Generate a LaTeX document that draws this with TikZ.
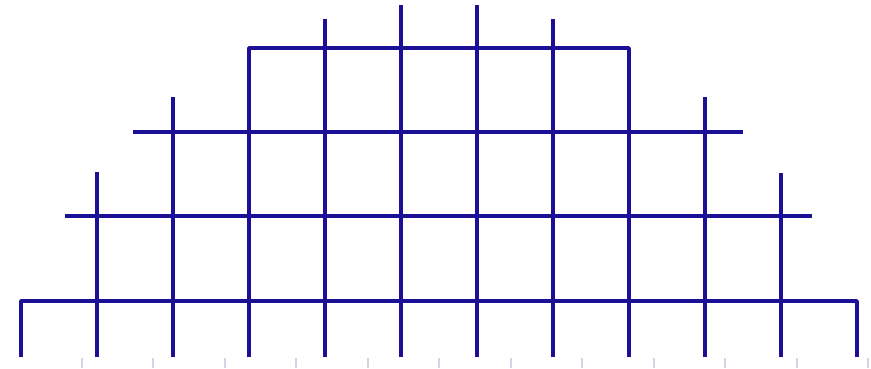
\documentclass[tikz,border=0pt]{standalone}
\begin{document}
\begin{tikzpicture}[x=1pt,y=-1pt,
  gridline/.style={draw={rgb,255:red,28;green,16;blue,150},line width=3.6pt,line cap=butt,line join=round},
  tickline/.style={draw={rgb,255:red,210;green,212;blue,225},line width=2pt}]
\useasboundingbox[fill=white] (0,0) rectangle (871,368);
% outer frames with corners
\draw[gridline] (21,357) -- (21,301) -- (857,301) -- (857,357);
\draw[gridline] (249,357) -- (249,48) -- (629,48) -- (629,357);
% other horizontals
\draw[gridline] (133,132) -- (743,132);
\draw[gridline] (65,216) -- (812,216);
% other verticals
\draw[gridline] (97,172) -- (97,357);
\draw[gridline] (173,97) -- (173,357);
\draw[gridline] (325,19) -- (325,357);
\draw[gridline] (401,5) -- (401,357);
\draw[gridline] (477,5) -- (477,357);
\draw[gridline] (553,19) -- (553,357);
\draw[gridline] (705,97) -- (705,357);
\draw[gridline] (781,173) -- (781,357);
% bottom ticks
\foreach \i in {0,...,11} {
  \draw[tickline] ({82+71.45*\i},358) -- ({82+71.45*\i},368);
}
\end{tikzpicture}
\end{document}
